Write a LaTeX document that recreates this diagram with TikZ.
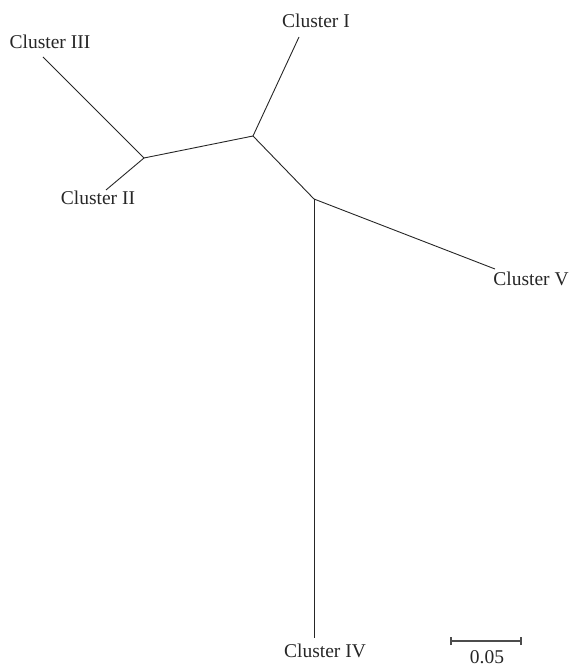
\documentclass[tikz,border=0pt]{standalone}
\usepackage{fontspec}
\setmainfont{Liberation Serif}
\begin{document}
\begin{tikzpicture}[x=1pt,y=-1pt,
  branch/.style={line width=0.9pt,black!85},
  lbl/.style={font=\fontsize{19.5}{22}\selectfont,inner sep=0pt,text=black!85},
  scalebar/.style={line width=1.3pt,black!70}]
\useasboundingbox (0,0) rectangle (571,668);
% internal nodes
\coordinate (A) at (144,158);
\coordinate (B) at (253,136);
\coordinate (C) at (314,199);
% leaf ends
\coordinate (l1) at (299,37);
\coordinate (l2) at (106,190);
\coordinate (l3) at (43,57);
\coordinate (l4) at (314,638);
\coordinate (l5) at (495,269);
% branches
\draw[branch] (A) -- (B);
\draw[branch] (B) -- (C);
\draw[branch] (B) -- (l1);
\draw[branch] (A) -- (l2);
\draw[branch] (A) -- (l3);
\draw[branch] (C) -- (l4);
\draw[branch] (C) -- (l5);
% labels
\node[lbl] (t1) at (316,21) {Cluster I};
\node[lbl] (t2) at (98,198) {Cluster II};
\node[lbl] (t3) at (50,42) {Cluster III};
\node[lbl] (t4) at (325,651) {Cluster IV};
\node[lbl] (t5) at (531,279) {Cluster V};
% scale bar
\coordinate (s1) at (451,641);
\coordinate (s2) at (521,641);
\draw[scalebar] (s1) -- (s2);
\draw[scalebar] ([yshift=-4]s1) -- ([yshift=4]s1);
\draw[scalebar] ([yshift=-4]s2) -- ([yshift=4]s2);
\node[lbl,anchor=base] (st) at (487,663) {0.05};
\end{tikzpicture}
\end{document}
